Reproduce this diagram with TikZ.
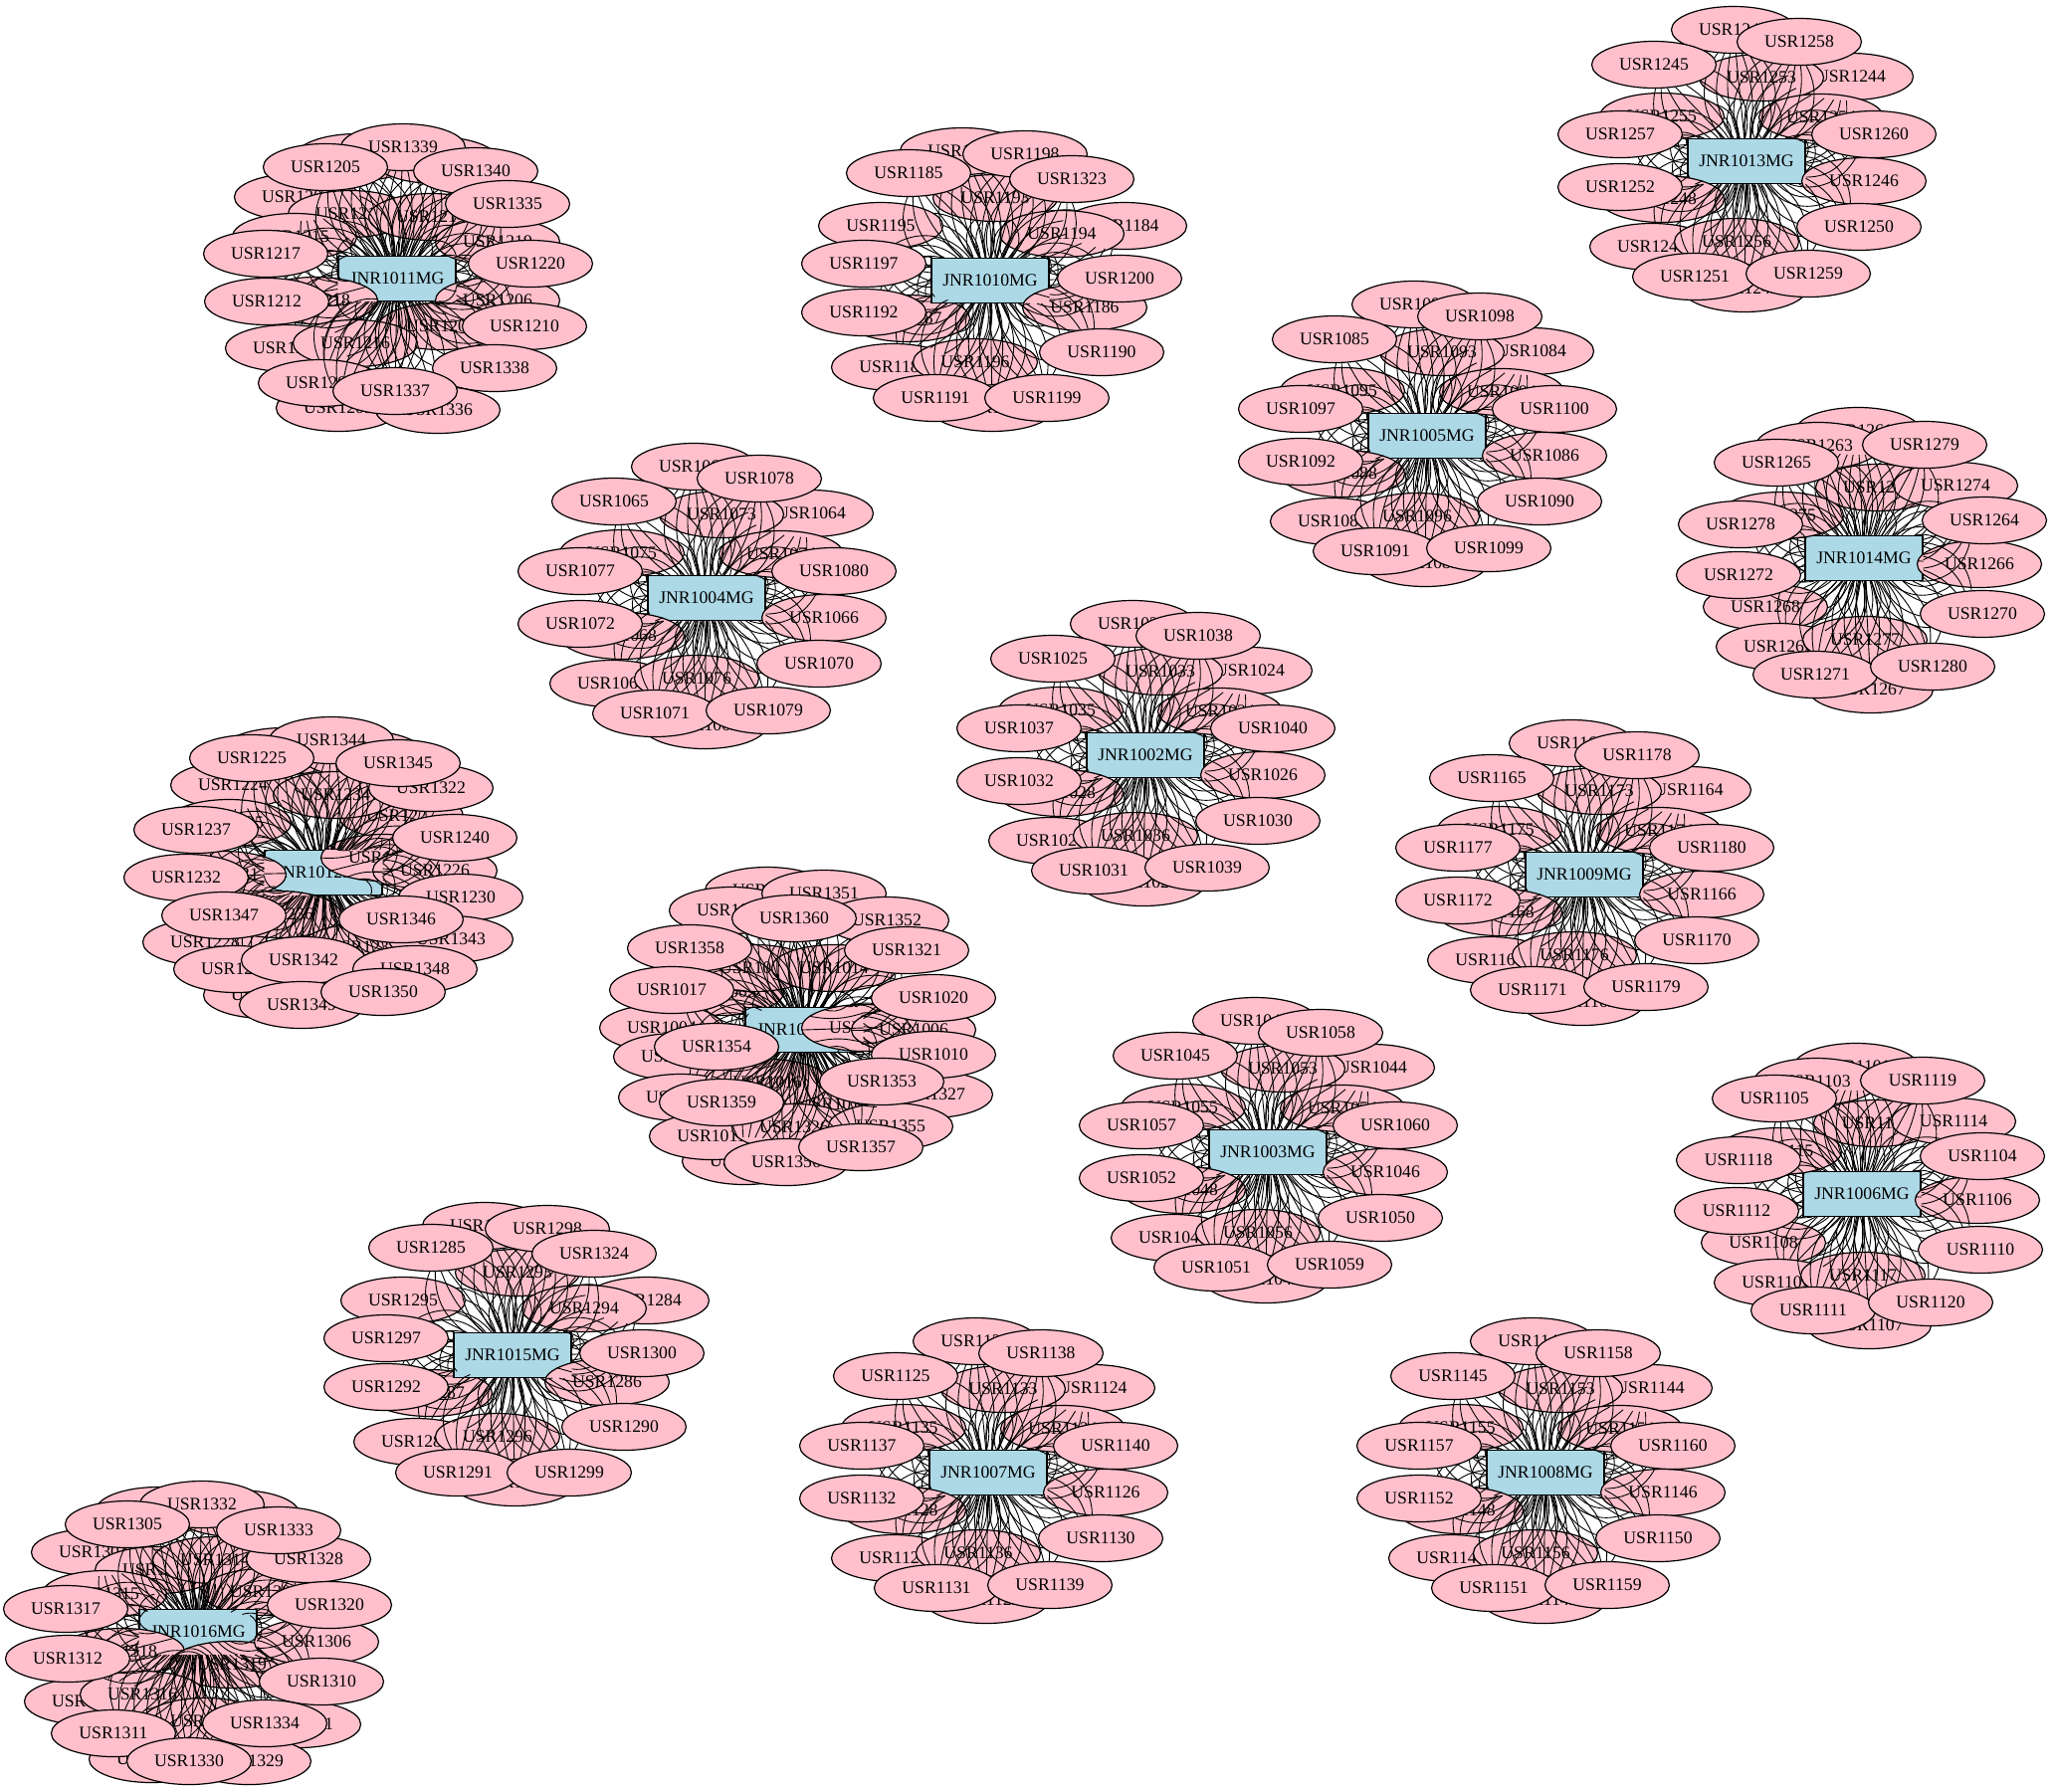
\documentclass[tikz,border=0pt]{standalone}
\usepackage{fontspec}
\setmainfont{Liberation Serif}
\usetikzlibrary{shapes.geometric}
\definecolor{usrpink}{RGB}{255,192,203}
\definecolor{jnrblue}{RGB}{173,216,230}
\tikzset{
 usr/.style={ellipse, draw=black, fill=usrpink, line width=1.2pt, minimum width=125pt, minimum height=47pt, inner sep=0pt, font=\fontsize{17.7}{20}\selectfont},
 usrghost/.style={ellipse, minimum width=125pt, minimum height=47pt, inner sep=0pt, line width=1.2pt},
 jnr/.style={rectangle, draw=black, fill=jnrblue, line width=1.2pt, minimum width=118pt, minimum height=45pt, inner sep=0pt, font=\fontsize{17.7}{20}\selectfont},
 edgeline/.style={draw=black, line width=0.9pt}
}
% template A
\def\TAback{-13/-132/0, -2/128/1, -95/86/6, 105/-85/3, -85/-45/14, 15/-84/12}
\def\TAmid{75/-44/13, -85/38/7, 118/20/5, -10/81/15}
\def\TAfront{-93/-97/4, 53/-120/17, -127/-27/16, 128/-27/19, -127/26/11, 113/66/9, -52/116/10, 62/113/18}
% template B
\def\TBback{-6/-128/0, 7/132/6, -46/-113/2, 14/-71/12, 92/-73/13, -99/49/7, -86/89/8}
\def\TBmid{-83/-43/14, 116/6/5, 1/82/16}
\def\TBfront{-88/-96/4, 61/-114/18, 121/-38/3, -124/-34/17, -126/17/11, 119/56/9, -49/117/10, 69/109/19}
% template T1
\def\TCback{-28/-130/0, 2/128/2, 135/-55/3, -83/38/6, -97/87/8, -110/-55/14, 5/-83/12}
\def\TCmid{95/27/5, 72/-47/13, -15/82/15}
\def\TCfront#1{35/-127/17, -82/-108/4, 82/-102/#1, -127/-17/16, 130/-2/19, -127/32/11, 112/72/9, -55/118/10, 57/118/18}

\newcommand\drawusrnodes[2]{%
  \foreach \dx/\dy/\k in #2 {\pgfmathtruncatemacro\lab{#1+\k}\node[usr] (u\lab) at (\dx,\dy) {USR\lab};}}
\newcommand\placeghosts[2]{%
  \foreach \dx/\dy/\k in #2 {\pgfmathtruncatemacro\lab{#1+\k}\node[usrghost] (u\lab) at (\dx,\dy) {};}}
\newcommand\drawusredges[3]{%
  \foreach \dx/\dy/\k in #3 {\pgfmathtruncatemacro\lab{#2+\k}%
    \foreach \b in {-40,-27,-14,0,14,27,40} {\draw[edgeline] (j#1) to[bend left=\b] (u\lab);}}}
\newcommand\mycluster[7]{%
  \begin{scope}[shift={(#2,#3)}]
  \edef\Lb{#5}\edef\Lm{#6}\edef\Lf{#7}%
  \drawusrnodes{#4}{\Lb}
  \node[jnr] (j#1) at (0,0) {JNR#1MG};
  \drawusrnodes{#4}{\Lm}
  \placeghosts{#4}{\Lf}
  \drawusredges{#1}{#4}{\Lb}
  \drawusredges{#1}{#4}{\Lm}
  \drawusredges{#1}{#4}{\Lf}
  \drawusrnodes{#4}{\Lf}
  \end{scope}}

\begin{document}
\begin{tikzpicture}[x=1pt,y=-1pt]
\fill[white] (0,0) rectangle (2063,1800);
\useasboundingbox (0,0) rectangle (2063,1800);

\mycluster{1013}{1755}{162}{1241}{\TAback}{\TAmid}{\TAfront}
\mycluster{1005}{1434}{438}{1081}{\TAback}{\TAmid}{\TAfront}
\mycluster{1004}{710}{601}{1061}{\TAback}{\TAmid}{\TAfront}
\mycluster{1002}{1151}{759}{1021}{\TAback}{\TAmid}{\TAfront}
\mycluster{1009}{1592}{879}{1161}{\TAback}{\TAmid}{\TAfront}
\mycluster{1003}{1274}{1158}{1041}{\TAback}{\TAmid}{\TAfront}
\mycluster{1007}{993}{1480}{1121}{\TAback}{\TAmid}{\TAfront}
\mycluster{1008}{1553}{1480}{1141}{\TAback}{\TAmid}{\TAfront}
\mycluster{1014}{1873}{561}{1261}{\TBback}{\TBmid}{\TBfront}
\mycluster{1006}{1871}{1200}{1101}{\TBback}{\TBmid}{\TBfront}
\mycluster{1010}{995}{282}{1181}{\TCback}{\TCmid}{\TCfront{142}}
\mycluster{1015}{515}{1362}{1281}{\TCback}{\TCmid}{\TCfront{43}}

\mycluster{1011}{399}{280}{0}
 {-40/-122/1201, 39/-119/1202, -59/130/1203, -101/-82/1204, -47/-65/1213, 34/-62/1214, -103/-42/1215}
 {101/-37/1219, -82/22/1218, 101/22/1206, 44/48/1207, -110/70/1208, -42/65/1216, -77/105/1209}
 {6/-132/1339, -72/-112/1205, 79/-108/1340, 111/-75/1335, -132/-25/1217, 134/-15/1220, -131/23/1212, 128/48/1210, 98/90/1338, 41/132/1336, -2/113/1337}

\mycluster{1012}{325}{877}{0}
 {-40/-122/1221, 39/-119/1222, -58/123/1223, -91/-88/1224, 78/-57/1227, -95/-50/1235, 12/-78/1234, -119/70/1228, -88/97/1229}
 {60/-15/1238, 112/-2/1226, -100/2/1231, -45/42/1236, 40/75/1233}
 {8/-133/1344, -72/-115/1225, 108/-85/1322, 75/-110/1345, -128/-43/1237, 132/-35/1240, -138/5/1232, 138/25/1230, 128/67/1343, -100/43/1347, 78/47/1346, -20/88/1342, 92/97/1348, -22/133/1349, 60/120/1350}

\mycluster{1001}{808}{1035}{0}
 {-37/-140/1001, -60/132/1002, -73/-120/1003, -83/-38/1005, -50/-62/1015, 30/-62/1014, -143/-2/1004, -129/27/1007, -124/68/1008, 30/75/1012, -93/107/1011}
 {60/-2/1019, 110/0/1006, -37/53/1016, 127/65/1327, -10/98/1326, 87/97/1355}
 {20/-137/1351, 83/-110/1352, -10/-112/1360, -115/-82/1358, 103/-80/1321, -133/-40/1017, 130/-32/1020, 130/25/1010, -88/17/1354, 78/52/1353, -83/73/1359, -18/133/1356, 57/118/1357}

\mycluster{1016}{199}{1640}{0}
 {-40/-122/1301, 39/-119/1302, -47/128/1303, -105/-80/1304, -41/-62/1307, 17/-72/1314, 67/-40/1308, -94/-38/1315}
 {-76/20/1318, 34/33/1319, 119/10/1306, -112/70/1309, -56/63/1316, 7/90/1313, 101/93/1331, 51/130/1329}
 {4/-128/1332, -71/-108/1305, 111/-73/1328, 81/-102/1333, -133/-23/1317, 132/-27/1320, -131/27/1312, 124/50/1310, 67/92/1334, -85/102/1311, -9/130/1330}
\end{tikzpicture}
\end{document}
